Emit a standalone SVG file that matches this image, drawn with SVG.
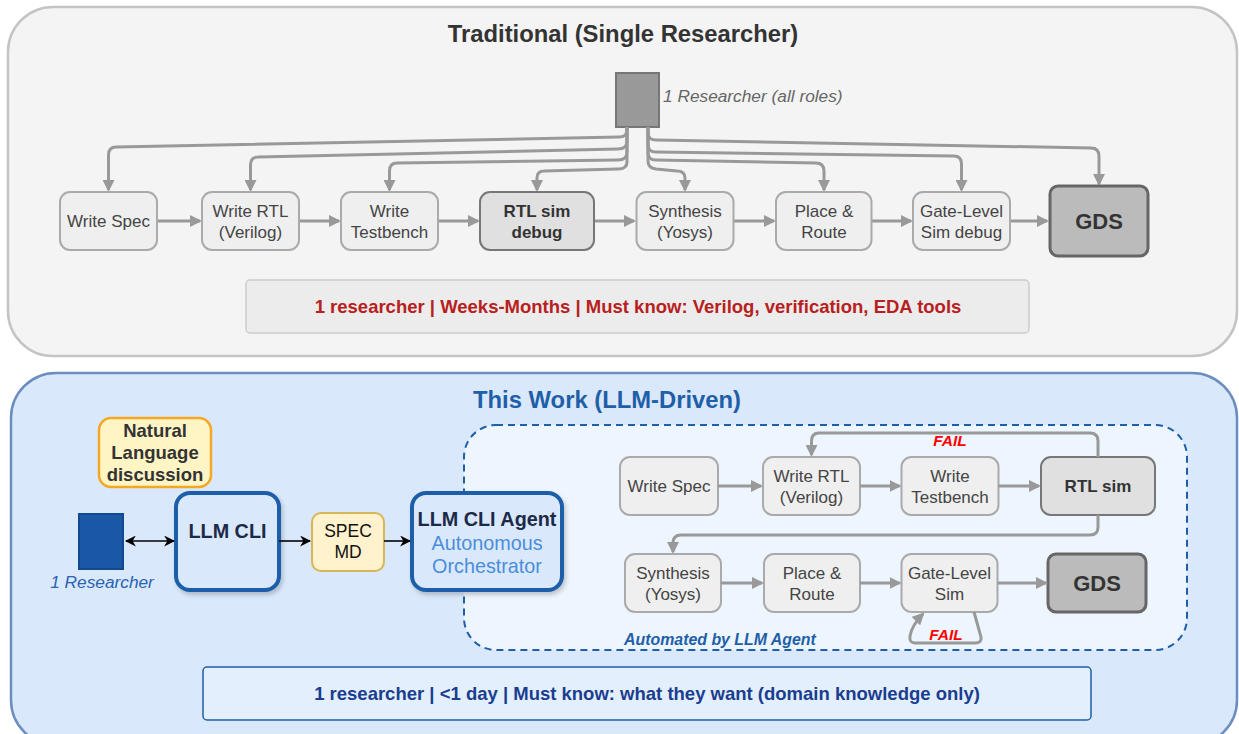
<svg xmlns="http://www.w3.org/2000/svg" width="1239" height="734" viewBox="0 0 1239 734">
<defs>
<marker id="ag" viewBox="0 0 12 12" refX="10" refY="6" markerWidth="12" markerHeight="12" markerUnits="userSpaceOnUse" orient="auto"><path d="M0,0 L12,6 L0,12 z" fill="#999"/></marker>
<marker id="ab" viewBox="0 0 10 10" refX="9" refY="5" markerWidth="11" markerHeight="11" markerUnits="userSpaceOnUse" orient="auto-start-reverse"><path d="M0,0 L10,5 L0,10 L3,5 z" fill="#000"/></marker>
<filter id="sh" x="-10%" y="-10%" width="130%" height="130%"><feDropShadow dx="2" dy="3" stdDeviation="2" flood-color="#000" flood-opacity="0.2"/></filter>
</defs>
<style>
text{font-family:"Liberation Sans",Arial,sans-serif;text-anchor:middle;}
.n{fill:#efefef;stroke:#aaa;stroke-width:2;}
.nd{fill:#e0e0e0;stroke:#777;stroke-width:2;}
.gds{fill:#bbb;stroke:#666;stroke-width:3;}
.t{font-size:17px;fill:#444;}
.tb{font-size:17px;fill:#333;font-weight:bold;}
.g{fill:none;stroke:#999;stroke-width:3;marker-end:url(#ag);}
.k{fill:none;stroke:#000;stroke-width:1.6;marker-end:url(#ab);}
.cli{fill:#dae8fc;stroke:#1f5fa8;stroke-width:4;filter:url(#sh);}
.fail{font-size:15.5px;font-weight:bold;font-style:italic;fill:#f00;}
</style>

<g id="panel-traditional">
<rect x="8" y="7" width="1229" height="349" rx="45" fill="#f4f4f4" stroke="#c4c4c4" stroke-width="2.5"/>
<text x="623" y="42" style="font-size:23.8px;font-weight:bold;fill:#333">Traditional (Single Researcher)</text>
</g>

<g id="researcher-top">
<rect x="616" y="73" width="43" height="54" fill="#999" stroke="#777" stroke-width="2"/>
<text x="663" y="102" style="text-anchor:start;font-size:17.3px;font-style:italic;fill:#666">1 Researcher (all roles)</text>
</g>

<g id="connectors-top">
<path class="g" d="M627,127 L627,130 Q627,137 619,137 L116,147 Q108.5,147 108.5,155 L108.5,190"/>
<path class="g" d="M627,127 L627,141 Q627,149 618,149 L258,157 Q250.5,157 250.5,165 L250.5,190"/>
<path class="g" d="M627,127 L627,152 Q627,160 618,160 L397,163 Q389.5,163 389.5,171 L389.5,190"/>
<path class="g" d="M627,127 L627,162 Q627,169 618,169 L544,171 Q537,171 537,178 L537,190"/>
<path class="g" d="M648,127 L648,133 Q648,140 656,140 L1091,148 Q1099,148 1099,156 L1099,184"/>
<path class="g" d="M648,127 L648,145 Q648,152 656,152 L954,156 Q961.5,156 961.5,164 L961.5,190"/>
<path class="g" d="M648,127 L648,153 Q648,160 656,160 L816,163 Q824,163 824,171 L824,190"/>
<path class="g" d="M648,127 L648,161 Q648,168 656,169 L677,171 Q685,171 685,178 L685,190"/>
<path class="g" d="M157,221 L200,221"/>
<path class="g" d="M299,221 L339,221"/>
<path class="g" d="M438,221 L478,221"/>
<path class="g" d="M594,221 L634,221"/>
<path class="g" d="M733.5,221 L774,221"/>
<path class="g" d="M871.5,221 L911,221"/>
<path class="g" d="M1010,221 L1047,221"/>
</g>

<g id="t-write-spec"><rect class="n" x="60" y="192" width="97" height="58" rx="10"/><text class="t" x="108.5" y="227">Write Spec</text></g>
<g id="t-write-rtl"><rect class="n" x="202" y="192" width="97" height="58" rx="10"/><text class="t" x="250.5" y="217">Write RTL</text><text class="t" x="250.5" y="238">(Verilog)</text></g>
<g id="t-write-tb"><rect class="n" x="341" y="192" width="97" height="58" rx="10"/><text class="t" x="389.5" y="217">Write</text><text class="t" x="389.5" y="238">Testbench</text></g>
<g id="t-rtl-sim"><rect class="nd" x="480" y="192" width="114" height="58" rx="10"/><text class="tb" x="537" y="217">RTL sim</text><text class="tb" x="537" y="238">debug</text></g>
<g id="t-synth"><rect class="n" x="636.5" y="192" width="97" height="58" rx="10"/><text class="t" x="685" y="217">Synthesis</text><text class="t" x="685" y="238">(Yosys)</text></g>
<g id="t-pnr"><rect class="n" x="776" y="192" width="95.5" height="58" rx="10"/><text class="t" x="824" y="217">Place &amp;</text><text class="t" x="824" y="238">Route</text></g>
<g id="t-gls"><rect class="n" x="913" y="192" width="97" height="58" rx="10"/><text class="t" x="961.5" y="217">Gate-Level</text><text class="t" x="961.5" y="238">Sim debug</text></g>
<g id="t-gds"><rect class="gds" x="1050" y="186" width="98" height="70" rx="8"/><text x="1099" y="229" style="font-size:22px;font-weight:bold;fill:#333">GDS</text></g>

<g id="t-summary">
<rect x="246" y="280" width="783" height="53" rx="4" fill="#ececec" stroke="#ccc" stroke-width="1.5"/>
<text x="638" y="313" style="font-size:18.5px;font-weight:bold;fill:#b82020">1 researcher | Weeks-Months | Must know: Verilog, verification, EDA tools</text>
</g>

<g id="panel-llm">
<rect x="11" y="373" width="1226" height="372" rx="45" fill="#dae8fc" stroke="#6c8ebf" stroke-width="2.5"/>
<text x="607" y="408" style="font-size:23.8px;font-weight:bold;fill:#1f5fa8">This Work (LLM-Driven)</text>
</g>

<g id="automated-container">
<rect x="464" y="425" width="723" height="225" rx="32" fill="#edf5fe" stroke="#1f5fa8" stroke-width="2" stroke-dasharray="7,5"/>
<text x="624" y="645" style="text-anchor:start;font-size:15.9px;font-weight:bold;font-style:italic;fill:#1f5fa8">Automated by LLM Agent</text>
</g>

<g id="natural-language">
<rect x="99" y="418" width="112" height="69" rx="12" fill="#fff5c4" stroke="#f5a623" stroke-width="2.5"/>
<text x="155" y="437" style="font-size:18.5px;font-weight:bold;fill:#333">Natural</text>
<text x="155" y="459" style="font-size:18.5px;font-weight:bold;fill:#333">Language</text>
<text x="155" y="481" style="font-size:18.5px;font-weight:bold;fill:#333">discussion</text>
</g>

<g id="researcher-llm">
<rect x="79" y="514" width="44" height="55" fill="#1a58a6" stroke="#104a90" stroke-width="2"/>
<text x="102" y="588" style="font-size:17.3px;font-style:italic;fill:#2a63b0">1 Researcher</text>
</g>

<g id="llm-cli"><rect class="cli" x="176" y="493" width="103" height="97" rx="14"/><text x="227.5" y="538" style="font-size:19.8px;font-weight:bold;fill:#1c2a48">LLM CLI</text></g>

<g id="spec-md"><rect x="312" y="513" width="72" height="58" rx="9" fill="#fff2cc" stroke="#d6b656" stroke-width="2"/><text x="348" y="537" style="font-size:17.5px;fill:#111">SPEC</text><text x="348" y="558" style="font-size:17.5px;fill:#111">MD</text></g>

<g id="llm-agent"><rect class="cli" x="412" y="493" width="150" height="97" rx="14"/>
<text x="487" y="526" style="font-size:19.8px;font-weight:bold;fill:#1c2a48">LLM CLI Agent</text>
<text x="487" y="550" style="font-size:19.8px;fill:#4a8ddb">Autonomous</text>
<text x="487" y="573" style="font-size:19.8px;fill:#4a8ddb">Orchestrator</text></g>

<g id="a-write-spec"><rect class="n" x="620" y="457" width="98" height="58" rx="10"/><text class="t" x="669" y="492">Write Spec</text></g>
<g id="a-write-rtl"><rect class="n" x="763" y="457" width="97" height="58" rx="10"/><text class="t" x="811.5" y="482">Write RTL</text><text class="t" x="811.5" y="503">(Verilog)</text></g>
<g id="a-write-tb"><rect class="n" x="901.5" y="457" width="97" height="58" rx="10"/><text class="t" x="950" y="482">Write</text><text class="t" x="950" y="503">Testbench</text></g>
<g id="a-rtl-sim"><rect class="nd" x="1041" y="457" width="114" height="58" rx="10"/><text class="tb" x="1098" y="492">RTL sim</text></g>
<g id="a-synth"><rect class="n" x="625" y="554" width="96" height="58" rx="10"/><text class="t" x="673" y="579">Synthesis</text><text class="t" x="673" y="600">(Yosys)</text></g>
<g id="a-pnr"><rect class="n" x="764" y="554" width="96" height="58" rx="10"/><text class="t" x="812" y="579">Place &amp;</text><text class="t" x="812" y="600">Route</text></g>
<g id="a-gls"><rect class="n" x="901.5" y="554" width="96" height="58" rx="10"/><text class="t" x="949.5" y="579">Gate-Level</text><text class="t" x="949.5" y="600">Sim</text></g>
<g id="a-gds"><rect class="gds" x="1048" y="554" width="98" height="58" rx="8"/><text x="1097" y="591" style="font-size:22px;font-weight:bold;fill:#333">GDS</text></g>

<g id="connectors-llm">
<path class="k" d="M126,541 L174,541" style="marker-start:url(#ab)"/>
<path class="k" d="M279,541 L310,541"/>
<path class="k" d="M384,541 L410,541"/>
<path class="g" d="M718,486 L761,486"/>
<path class="g" d="M860,486 L899.5,486"/>
<path class="g" d="M998.5,486 L1039,486"/>
<path class="g" d="M1098,457 L1098,441 Q1098,433 1090,433 L819,433 Q811.5,433 811.5,441 L811.5,455"/>
<path class="g" d="M1098,515 L1098,527 Q1098,535 1090,535 L681,535 Q673,535 673,543 L673,552"/>
<path class="g" d="M721,583 L762,583"/>
<path class="g" d="M860,583 L899.5,583"/>
<path class="g" d="M997.5,583 L1046,583"/>
<path class="g" d="M974,612 L981,637 Q982,643 975,643 L915,643 Q909,643 910,636 Q912,625 923,614"/>
<text class="fail" x="950" y="446">FAIL</text>
<text class="fail" x="946" y="640">FAIL</text>
</g>

<g id="llm-summary">
<rect x="203" y="667" width="888" height="53" rx="4" fill="#e3effd" stroke="#1f5fa8" stroke-width="1.5"/>
<text x="647" y="700" style="font-size:18.5px;font-weight:bold;fill:#1a3d8f">1 researcher | &lt;1 day | Must know: what they want (domain knowledge only)</text>
</g>
</svg>
